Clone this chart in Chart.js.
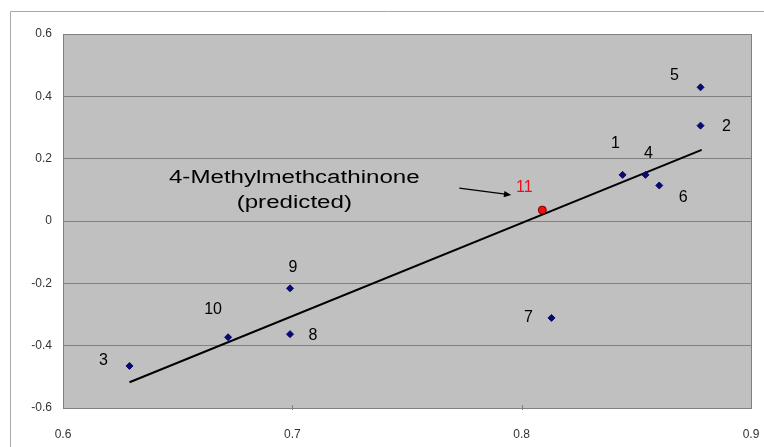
<!DOCTYPE html>
<html>
<head>
<meta charset="utf-8">
<script src="https://cdn.jsdelivr.net/npm/chart.js@4.4.0/dist/chart.umd.min.js"></script>
<style>
  html, body { margin: 0; padding: 0; background: #fff; }
  #wrap { width: 764px; height: 447px; }
</style>
</head>
<body>
<div id="wrap"><canvas id="myChart" width="764" height="447"></canvas></div>
<script>
// compounds 1-10 (known)
const pointLabels = ['1', '2', '3', '4', '5', '6', '7', '8', '9', '10'];
const pointX = [0.844, 0.878, 0.629, 0.854, 0.878, 0.860, 0.813, 0.699, 0.699, 0.672];
const pointY = [0.148, 0.306, -0.465, 0.148, 0.429, 0.114, -0.311, -0.363, -0.216, -0.373];

// compound 11 (predicted)
const predLabel = '11';
const predX = [0.809];
const predY = [0.035];

// regression line end points
const trendX = [0.629, 0.8785];
const trendY = [-0.5175, 0.228];

// axis ticks
const xTicks = [0.6, 0.7, 0.8, 0.9];
const yTicks = [-0.6, -0.4, -0.2, 0, 0.2, 0.4, 0.6];

const FONT = '"Liberation Sans", Arial, sans-serif';

// where each number sits relative to its point (px)
const labelOffsets = {
    '1': [-7, -31], '2': [26, 1], '3': [-26, -5], '4': [3, -21], '5': [-26, -12],
    '6': [24, 12], '7': [-23, 0], '8': [23, 1], '9': [3, -21], '10': [-15, -28],
    '11': [-18, -22]
};

// frame lines (top and left) + gray plot area
const framePlugin = {
    id: 'frame',
    beforeDraw(chart) {
        const ctx = chart.ctx;
        const a = chart.chartArea;
        ctx.save();
        ctx.fillStyle = '#c0c0c0';
        ctx.fillRect(a.left, a.top, a.right - a.left, a.bottom - a.top);
        ctx.strokeStyle = '#a8a8a8';
        ctx.lineWidth = 1;
        ctx.beginPath();
        ctx.moveTo(10.5, 447);
        ctx.lineTo(10.5, 11.5);
        ctx.lineTo(764, 11.5);
        ctx.stroke();
        ctx.restore();
    },
    afterDraw(chart) {
        const ctx = chart.ctx;
        const a = chart.chartArea;
        ctx.save();
        ctx.strokeStyle = '#808080';
        ctx.lineWidth = 1;
        ctx.strokeRect(Math.round(a.left) + 0.5, Math.round(a.top) + 0.5,
            Math.round(a.right - a.left), Math.round(a.bottom - a.top));
        // small tick marks on the bottom edge
        const xs = chart.scales.x;
        xTicks.slice(1, -1).forEach(v => {
            const px = Math.round(xs.getPixelForValue(v)) + 0.5;
            ctx.beginPath();
            ctx.moveTo(px, a.bottom - 3);
            ctx.lineTo(px, a.bottom + 2);
            ctx.stroke();
        });
        ctx.restore();
    }
};

// numbers next to points and the annotation with arrow
const labelPlugin = {
    id: 'labels',
    afterDatasetsDraw(chart) {
        const ctx = chart.ctx;
        const xs = chart.scales.x;
        const ys = chart.scales.y;
        ctx.save();
        ctx.textAlign = 'center';
        ctx.textBaseline = 'middle';
        ctx.font = '16px ' + FONT;
        ctx.fillStyle = '#000';
        pointLabels.forEach((lab, i) => {
            const px = xs.getPixelForValue(pointX[i]);
            const py = ys.getPixelForValue(pointY[i]);
            const o = labelOffsets[lab];
            ctx.fillText(lab, px + o[0], py + o[1]);
        });
        const qx = xs.getPixelForValue(predX[0]);
        const qy = ys.getPixelForValue(predY[0]);
        const o = labelOffsets[predLabel];
        ctx.fillStyle = '#e8101a';
        ctx.fillText(predLabel, qx + o[0], qy + o[1]);

        // annotation text, slightly stretched like the original
        ctx.fillStyle = '#000';
        ctx.font = '18px ' + FONT;
        ctx.textBaseline = 'alphabetic';
        const cx = qx - 248;
        ctx.save();
        ctx.translate(cx, 0);
        ctx.scale(1.34, 1);
        ctx.fillText('4-Methylmethcathinone', 0, qy - 27);
        ctx.fillText('(predicted)', 0, qy - 2);
        ctx.restore();

        // arrow
        const x0 = qx - 83, y0 = qy - 22, x1 = qx - 31, y1 = qy - 15;
        ctx.strokeStyle = '#000';
        ctx.lineWidth = 1.2;
        ctx.beginPath();
        ctx.moveTo(x0, y0);
        ctx.lineTo(x1 - 6, y1 - 1);
        ctx.stroke();
        const ang = Math.atan2(y1 - y0, x1 - x0);
        ctx.beginPath();
        ctx.moveTo(x1, y1);
        ctx.lineTo(x1 - 8 * Math.cos(ang - 0.4), y1 - 8 * Math.sin(ang - 0.4));
        ctx.lineTo(x1 - 8 * Math.cos(ang + 0.4), y1 - 8 * Math.sin(ang + 0.4));
        ctx.closePath();
        ctx.fill();
        ctx.restore();
    }
};

function main() {
    const knownPoints = pointX.map((x, i) => ({ x: x, y: pointY[i] }));
    const predPoints = predX.map((x, i) => ({ x: x, y: predY[i] }));
    const trendPoints = trendX.map((x, i) => ({ x: x, y: trendY[i] }));

    const config = {
        type: 'scatter',
        data: {
            datasets: [
                {
                    label: 'trend',
                    data: trendPoints,
                    showLine: true,
                    borderColor: '#000',
                    borderWidth: 2,
                    pointRadius: 0,
                    order: 3
                },
                {
                    label: 'known',
                    data: knownPoints,
                    pointStyle: 'rectRot',
                    pointRadius: 3.5,
                    backgroundColor: '#0a0a6e',
                    borderColor: '#0a0a6e',
                    borderWidth: 1,
                    order: 1
                },
                {
                    label: 'predicted',
                    data: predPoints,
                    pointStyle: 'circle',
                    pointRadius: 4,
                    backgroundColor: '#ee1111',
                    borderColor: '#7a0000',
                    borderWidth: 1,
                    order: 0
                }
            ]
        },
        options: {
            responsive: false,
            animation: false,
            layout: { padding: { top: 34, right: 13, left: 0, bottom: 0 } },
            plugins: {
                legend: { display: false },
                tooltip: { enabled: false }
            },
            scales: {
                x: {
                    type: 'linear',
                    min: xTicks[0],
                    max: xTicks[xTicks.length - 1],
                    afterBuildTicks: scale => { scale.ticks = xTicks.map(v => ({ value: v })); },
                    afterFit: scale => {
                        scale.height = 39;
                        scale.paddingLeft = 0;
                        scale.paddingRight = 0;
                    },
                    grid: { display: false },
                    border: { display: false },
                    ticks: {
                        padding: 11,
                        color: '#333',
                        font: { family: FONT, size: 12 },
                        maxRotation: 0,
                        callback: v => String(Math.round(v * 10) / 10)
                    }
                },
                y: {
                    type: 'linear',
                    min: yTicks[0],
                    max: yTicks[yTicks.length - 1],
                    afterBuildTicks: scale => { scale.ticks = yTicks.map(v => ({ value: v })); },
                    afterFit: scale => {
                        scale.width = 63;
                        scale.paddingTop = 0;
                        scale.paddingBottom = 0;
                    },
                    grid: { color: '#808080', lineWidth: 1, drawTicks: false },
                    border: { display: false },
                    ticks: {
                        padding: 11,
                        color: '#333',
                        font: { family: FONT, size: 12 },
                        callback: v => String(Math.round(v * 10) / 10)
                    }
                }
            }
        },
        plugins: [framePlugin, labelPlugin]
    };

    new Chart(document.getElementById('myChart'), config);
}

document.addEventListener('DOMContentLoaded', function () {
    main();
});
</script>
</body>
</html>
